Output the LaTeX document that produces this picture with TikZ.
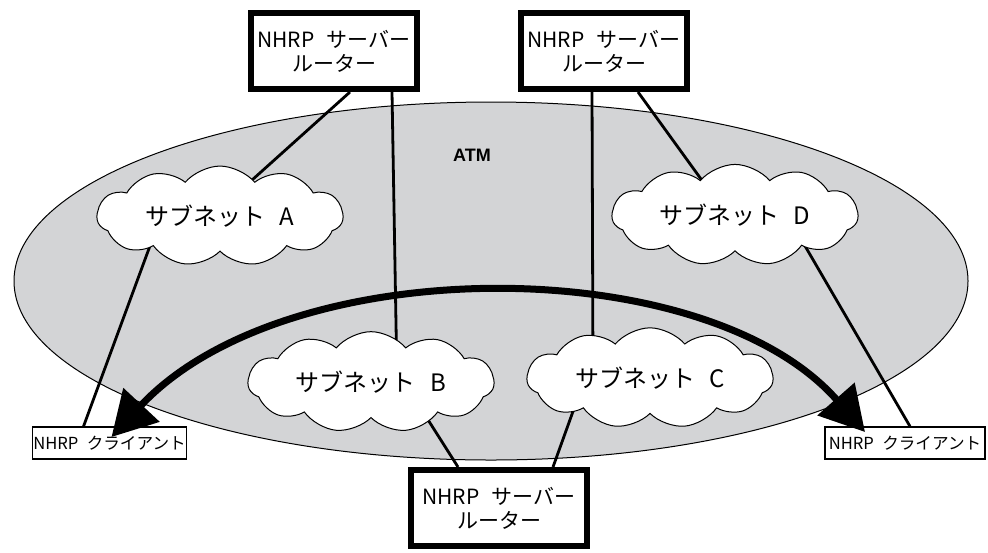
\documentclass[tikz,border=0pt]{standalone}
\usepackage{fontspec}
\usetikzlibrary{shapes.symbols,arrows.meta,backgrounds}
\newfontfamily\jpfont{Noto Sans CJK JP}
\newfontfamily\atmfont{Liberation Sans}
\definecolor{atmgray}{RGB}{211,212,214}

\begin{document}
\begin{tikzpicture}[x=0.5pt, y=-0.5pt,
    server/.style = {draw, line width=3pt, fill=white, align=center, minimum width=83pt, minimum height=38pt, inner sep=0pt, font=\jpfont\fontsize{10.5}{12}\selectfont},
    subnet/.style = {draw, cloud, cloud puffs=11, cloud puff arc=100, aspect=2.8, line width=0.5pt, fill=white, minimum width=123pt, minimum height=43pt, inner sep=0pt, font=\jpfont\fontsize{12}{14}\selectfont},
    client/.style = {draw, line width=0.6pt, fill=white, minimum width=77pt, minimum height=16pt, inner sep=0pt, font=\jpfont\fontsize{8.3}{10}\selectfont},
    link/.style = {line width=1.4pt}]
    \useasboundingbox (0,0) rectangle (988,552);
    % Disegna i nodi
    \node[server] (srv1) at (334,51) {NHRP\hspace{0.6em}サーバー\\ルーター};
    \node[server] (srv2) at (604,51) {NHRP\hspace{0.6em}サーバー\\ルーター};
    \node[server, minimum width=88pt] (srv3) at (499,508) {NHRP\hspace{0.6em}サーバー\\ルーター};
    \node[subnet] (subA) at (220,216) {サブネット\hspace{0.6em}A};
    \node[subnet] (subB) at (371,382) {サブネット\hspace{0.6em}B};
    \node[subnet] (subC) at (650,378) {サブネット\hspace{0.6em}C};
    \node[subnet] (subD) at (735,215) {サブネット\hspace{0.6em}D};
    \node[client] (cliL) at (109.5,443) {NHRP\hspace{0.5em}クライアント};
    \node[client, minimum width=80pt] (cliR) at (905,443) {NHRP\hspace{0.5em}クライアント};
    \node[font=\atmfont\bfseries\fontsize{9}{10}\selectfont] (atm) at (472,155) {ATM};

    % ellisse e collegamenti sotto i nodi
    \begin{pgfonlayer}{background}
        \draw[fill=atmgray, line width=0.5pt] (491,281) ellipse [x radius=238.5pt, y radius=89.5pt];
        \draw[link] ([xshift=8pt]srv1.south) -- ([xshift=-4pt]subA.center);
        \draw[link] ([xshift=29pt]srv1.south) -- ([xshift=13pt]subB.center);
        \draw[link] ([xshift=-6pt]srv2.south) -- ([xshift=-28.5pt]subC.center);
        \draw[link] ([xshift=17pt]srv2.south) -- ([xshift=-4pt]subD.center);
        \draw[link] ([xshift=-29.5pt]subA.center) -- ([xshift=-13pt]cliL.north);
        \draw[link] ([xshift=26pt]subD.center) -- ([xshift=2.5pt]cliR.north);
        \draw[link] ([xshift=16.5pt]subB.center) -- ([xshift=-20.5pt]srv3.north);
        \draw[link] ([xshift=-32.5pt]subC.center) -- ([xshift=27pt]srv3.north);
    \end{pgfonlayer}

    \draw[line width=3.5pt, {Triangle[length=22pt,width=24pt]}-{Triangle[length=22pt,width=24pt]}] ([xshift=1pt,yshift=3pt]cliL.center) .. controls (286,250) and (705,250) .. ([xshift=-20pt,yshift=5.5pt]cliR.center);
\end{tikzpicture}
\end{document}
